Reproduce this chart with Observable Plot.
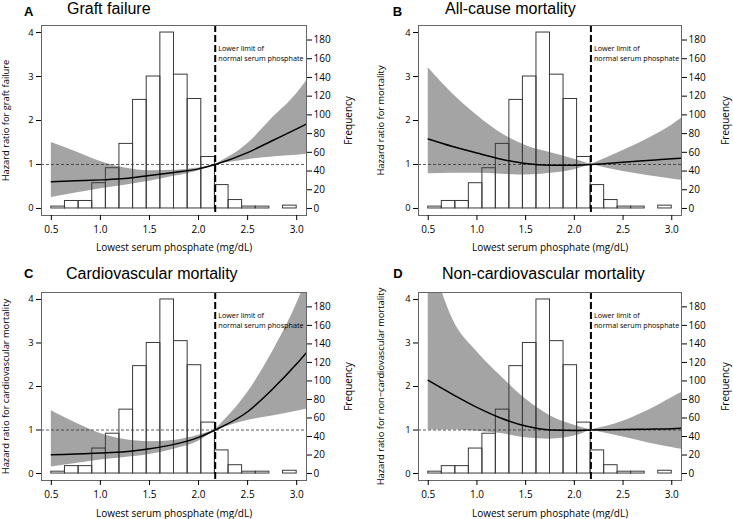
<!DOCTYPE html>
<html><head><meta charset="utf-8">
<script src="https://cdn.jsdelivr.net/npm/d3@7"></script>
<script src="https://cdn.jsdelivr.net/npm/@observablehq/plot@0.6"></script>
<style>
body{margin:0;background:#fff;}
#wrap{position:relative;width:733px;height:519px;overflow:hidden;font-family:"Liberation Sans",Arial,sans-serif;color:#000;}
.panel{position:absolute;}
.letter{position:absolute;font-weight:bold;font-size:13px;line-height:1;white-space:nowrap;}
.title{position:absolute;font-size:16px;line-height:1;white-space:nowrap;}
</style></head><body><div id="wrap"></div>
<script>
// ---- data ----
const binEdges = [0.5, 0.639, 0.778, 0.917, 1.056, 1.194, 1.333, 1.472, 1.611, 1.75, 1.889, 2.028, 2.167, 2.306, 2.444, 2.583, 2.722, 2.861, 3.0];
const counts   = [2, 8, 8, 27, 43, 69, 116, 141, 188, 143, 117, 55, 25, 9, 2, 2, 0, 3];
const xs = [0.5, 0.75, 1.0, 1.25, 1.5, 1.75, 2.0, 2.17, 2.5, 2.75, 3.0, 3.1];

const hrA = [0.61, 0.63, 0.65, 0.68, 0.75, 0.82, 0.90, 1.0, 1.27, 1.54, 1.81, 1.92];
const hiA = [1.50, 1.29, 1.07, 0.92, 0.86, 0.87, 0.92, 1.0, 1.47, 2.05, 2.61, 2.90];
const loA = [0.25, 0.35, 0.45, 0.53, 0.62, 0.73, 0.86, 1.0, 1.11, 1.17, 1.21, 1.23];

const hrB = [1.58, 1.41, 1.26, 1.12, 1.02, 0.985, 0.985, 1.0, 1.05, 1.09, 1.13, 1.14];
const hiB = [3.20, 2.61, 2.12, 1.71, 1.43, 1.27, 1.12, 1.0, 1.32, 1.58, 1.89, 2.05];
const loB = [0.79, 0.80, 0.80, 0.78, 0.76, 0.80, 0.88, 1.0, 0.84, 0.75, 0.67, 0.64];

const hrC = [0.43, 0.45, 0.47, 0.50, 0.57, 0.67, 0.83, 1.0, 1.42, 1.93, 2.52, 2.78];
const hiC = [1.44, 1.16, 0.92, 0.78, 0.73, 0.76, 0.88, 1.0, 1.86, 2.78, 3.90, 4.45];
const loC = [0.15, 0.23, 0.31, 0.37, 0.44, 0.56, 0.74, 1.0, 1.22, 1.32, 1.43, 1.48];

const hrD = [2.14, 1.82, 1.52, 1.27, 1.09, 1.0, 0.99, 1.0, 1.01, 1.02, 1.03, 1.04];
const hiD = [5.20, 3.55, 2.80, 2.23, 1.71, 1.33, 1.11, 1.0, 1.20, 1.44, 1.74, 1.86];
const loD = [1.00, 1.00, 0.97, 0.92, 0.82, 0.79, 0.86, 1.0, 0.84, 0.71, 0.60, 0.56];

const letters = ["A", "B", "C", "D"];
const titles = ["Graft failure", "All-cause mortality", "Cardiovascular mortality", "Non-cardiovascular mortality"];
const yLabels = ["Hazard ratio for graft failure", "Hazard ratio for mortality", "Hazard ratio for cardiovascular mortality", "Hazard ratio for non\u2212cardiovascular mortality"];
const xLabel = "Lowest serum phosphate (mg/dL)";
const rightLabel = "Frequency";
const xTicks = [0.5, 1.0, 1.5, 2.0, 2.5, 3.0];
const hrTicks = [0, 1, 2, 3, 4];
const freqTicks = [0, 20, 40, 60, 80, 100, 120, 140, 160, 180];
const refValue = 2.17;
const refNote = "Lower limit of\nnormal serum phosphate";
const series = [[hrA, loA, hiA], [hrB, loB, hiB], [hrC, loC, hiC], [hrD, loD, hiD]];

// ---- layout ----
const layout = [
  {left: 0,   top: 20,  w: 366, h: 240, ml: 41, mr: 60, mb: 45, xlo: 35.5, ylo: 39, rlo: 45, tp: 5,
   letter: [24, 5], title: [67, 0.5]},
  {left: 366, top: 20,  w: 367, h: 240, ml: 52, mr: 52, mb: 45, xlo: 35.5, ylo: 41, rlo: 47, tp: 5,
   letter: [392.7, 5], title: [445, 0.5]},
  {left: 0,   top: 287, w: 366, h: 232, ml: 41, mr: 60, mb: 39, xlo: 36, ylo: 39, rlo: 45, tp: 5,
   letter: [24, 267], title: [66, 265.5]},
  {left: 366, top: 287, w: 367, h: 232, ml: 52, mr: 52, mb: 39, xlo: 36, ylo: 41, rlo: 47, tp: 5,
   letter: [393.3, 267], title: [442, 265.5]}
];

const k = 4 / 188; // frequency -> hazard-ratio units for the shared vertical scale
const wrap = document.getElementById("wrap");

series.forEach((s, p) => {
  const L = layout[p];
  const [hr, lo, hi] = s;
  const bars = counts.map((c, i) => ({x1: binEdges[i], x2: binEdges[i + 1], y: c * k}));
  const curve = xs.map((x, i) => ({x, hr: hr[i]}));
  const band = [];
  xs.forEach((x, i) => {
    if (x <= refValue) band.push({x, lo: lo[i], hi: hi[i], seg: "L"});
    if (x >= refValue) band.push({x, lo: lo[i], hi: hi[i], seg: "R"});
  });

  const chart = Plot.plot({
    width: L.w, height: L.h,
    marginTop: 5, marginBottom: L.mb, marginLeft: L.ml, marginRight: L.mr,
    x: {domain: [0.4, 3.1]},
    y: {domain: [-0.16, 4.16]},
    style: {fontFamily: "'Open Sans', sans-serif", fontSize: "10px", background: "white", color: "black", overflow: "visible"},
    marks: [
      Plot.rect(bars, {x1: "x1", x2: "x2", y1: 0, y2: "y", fill: "white"}),
      Plot.areaY(band, {x: "x", y1: "lo", y2: "hi", z: "seg", fill: "#a4a4a4", curve: "monotone-x", clip: true}),
      Plot.rect(bars, {x1: "x1", x2: "x2", y1: 0, y2: "y", fill: "none", stroke: "#3a3a3a", strokeWidth: 1}),
      Plot.ruleY([1], {stroke: "#333", strokeWidth: 0.8, strokeDasharray: "3,2"}),
      Plot.line(curve, {x: "x", y: "hr", stroke: "black", strokeWidth: 1.5, curve: "monotone-x", clip: true}),
      Plot.ruleX([refValue], {stroke: "black", strokeWidth: 2, strokeDasharray: "7,3"}),
      Plot.text([refNote], {x: refValue, y: 3.72, dx: 3, text: d => d, textAnchor: "start", lineAnchor: "top", fontSize: 7.2, lineHeight: 1.29}),
      Plot.frame({stroke: "#666"}),
      Plot.axisX({ticks: xTicks, tickFormat: d => d.toFixed(1), tickSize: 5, tickPadding: L.tp,
        label: xLabel, labelAnchor: "center", labelOffset: L.xlo, labelArrow: "none"}),
      Plot.axisY({anchor: "left", ticks: hrTicks, tickFormat: d => String(d), tickSize: 5, tickPadding: 3, fontSize: 9.3,
        label: yLabels[p], labelAnchor: "center", labelOffset: L.ylo, labelArrow: "none"}),
      Plot.axisY({anchor: "right", ticks: freqTicks.map(f => f * k), tickFormat: d => String(Math.round(d / k)), tickSize: 5, tickPadding: 2,
        label: rightLabel, labelAnchor: "center", labelOffset: L.rlo, labelArrow: "none"})
    ]
  });
  chart.classList.add("panel");
  chart.style.left = L.left + "px";
  chart.style.top = L.top + "px";
  wrap.appendChild(chart);

  const le = document.createElement("div");
  le.className = "letter";
  le.textContent = letters[p];
  le.style.left = L.letter[0] + "px";
  le.style.top = L.letter[1] + "px";
  wrap.appendChild(le);

  const te = document.createElement("div");
  te.className = "title";
  te.textContent = titles[p];
  te.style.left = L.title[0] + "px";
  te.style.top = L.title[1] + "px";
  wrap.appendChild(te);
});
</script></body></html>
